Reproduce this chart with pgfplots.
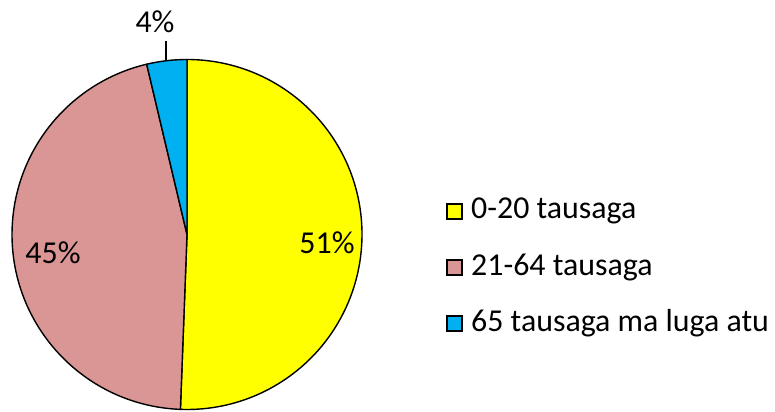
\documentclass[border=0pt]{standalone}
\usepackage{pgfplots}
\pgfplotsset{compat=1.18}
\usepackage{pgfplotstable}
\usepackage{fontspec}
\setmainfont{Carlito}
\definecolor{sYel}{HTML}{FFFF00}
\definecolor{sPink}{HTML}{D99694}
\definecolor{sBlue}{HTML}{00B0F0}
\pgfplotstableread{
share
50.6
45.7
3.7
}\piedata
\begin{document}
\begin{tikzpicture}[font=\fontsize{32}{37}\selectfont]
\pgfplotstablegetelem{0}{share}\of\piedata \let\va\pgfplotsretval
\pgfplotstablegetelem{1}{share}\of\piedata \let\vb\pgfplotsretval
\pgfplotstablegetelem{2}{share}\of\piedata \let\vc\pgfplotsretval
\pgfmathsetmacro{\aA}{90}
\pgfmathsetmacro{\aB}{90-3.6*\va}
\pgfmathsetmacro{\aC}{\aB-3.6*\vb}
\pgfmathsetmacro{\aD}{\aC-3.6*\vc}
\begin{axis}[width=775bp, height=410bp, scale only axis,
  xmin=0, xmax=775, ymin=0, ymax=410, hide axis, clip=false]
\path (rel axis cs:0,0) rectangle (rel axis cs:1,1);
\filldraw[fill=sYel, draw=black, line width=1.4bp, line join=round]
  (axis cs:187,175.5) -- ++(\aA:175bp) arc[start angle=\aA, end angle=\aB, radius=175bp] -- cycle;
\filldraw[fill=sPink, draw=black, line width=1.4bp, line join=round]
  (axis cs:187,175.5) -- ++(\aB:175bp) arc[start angle=\aB, end angle=\aC, radius=175bp] -- cycle;
\filldraw[fill=sBlue, draw=black, line width=1.4bp, line join=round]
  (axis cs:187,175.5) -- ++(\aC:175bp) arc[start angle=\aC, end angle=\aD, radius=175bp] -- cycle;
\node at (axis cs:327,167) {51\%};
\node at (axis cs:53,157) {45\%};
\node at (axis cs:155,388) {4\%};
\draw[line width=1.2bp] (axis cs:166,369) -- (axis cs:166,350);
\draw[fill=sYel, line width=1.2bp] (axis cs:447,191) rectangle (axis cs:462,206);
\draw[fill=sPink, line width=1.2bp] (axis cs:447,135) rectangle (axis cs:462,150);
\draw[fill=sBlue, line width=1.2bp] (axis cs:447,79) rectangle (axis cs:462,94);
\node[anchor=west, inner sep=0pt] at (axis cs:471,199) {0-20 tausaga};
\node[anchor=west, inner sep=0pt] at (axis cs:471,143) {21-64 tausaga};
\node[anchor=west, inner sep=0pt] at (axis cs:471,87) {65 tausaga ma luga atu};
\end{axis}
\end{tikzpicture}
\end{document}
